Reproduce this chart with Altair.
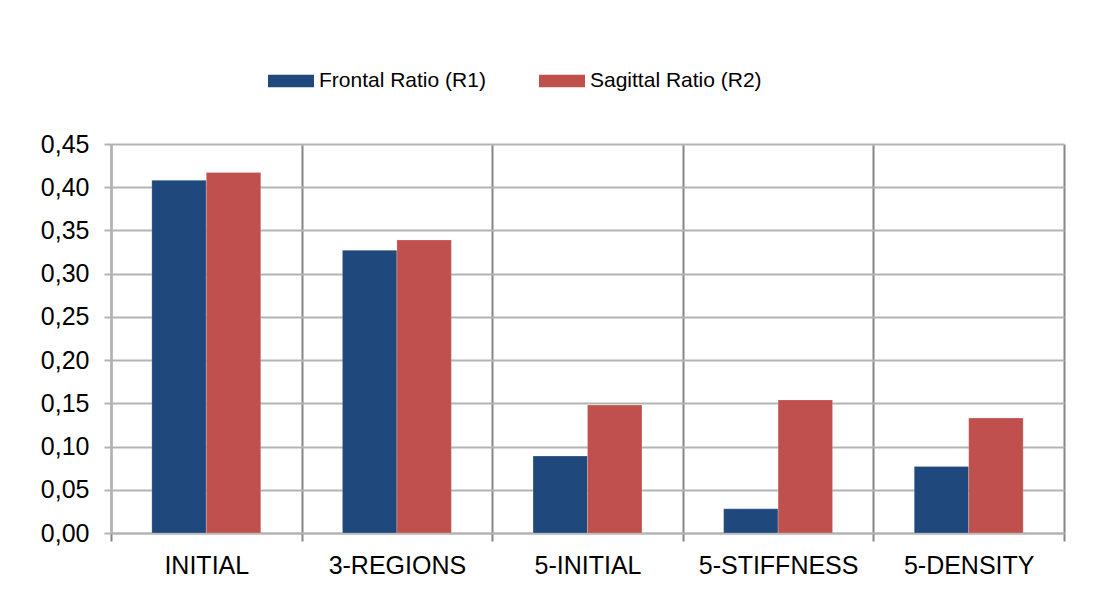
import altair as alt
import pandas as pd

categories = ["INITIAL", "3-REGIONS", "5-INITIAL", "5-STIFFNESS", "5-DENSITY"]
frontal = [0.408, 0.327, 0.089, 0.028, 0.077]
sagittal = [0.417, 0.339, 0.148, 0.154, 0.133]
series_names = ["Frontal Ratio (R1)", "Sagittal Ratio (R2)"]
series_colors = ["#1F497D", "#C0504D"]
y_ticks = [0.0, 0.05, 0.10, 0.15, 0.20, 0.25, 0.30, 0.35, 0.40, 0.45]

rows = []
for c, f, s in zip(categories, frontal, sagittal):
    rows.append({"category": c, "series": series_names[0], "value": f})
    rows.append({"category": c, "series": series_names[1], "value": s})
df = pd.DataFrame(rows)

font = "Liberation Sans"

chart = alt.Chart(df).mark_bar(
    stroke="#ffffff", strokeOpacity=0.35, strokeWidth=0.6
).encode(
    x=alt.X(
        "category:N", sort=categories, title=None,
        scale=alt.Scale(paddingInner=0, paddingOuter=0),
        axis=alt.Axis(
            labelAngle=0, labelFontSize=25, labelFont=font, labelColor="#000000",
            labelPadding=12, tickBand="extent", tickSize=8, tickColor="#868686",
            tickWidth=2, grid=True, gridColor="#868686", gridWidth=2,
            domainColor="#b3b3b3", domainWidth=2,
        ),
    ),
    xOffset=alt.XOffset(
        "series:N", sort=series_names,
        scale=alt.Scale(paddingInner=0, paddingOuter=0.75),
    ),
    y=alt.Y(
        "value:Q", title=None,
        scale=alt.Scale(domain=[0, 0.45], nice=False),
        axis=alt.Axis(
            values=y_ticks,
            labelExpr="replace(format(datum.value, '.2f'), '.', ',')",
            labelFontSize=25, labelFont=font, labelColor="#000000", labelPadding=15,
            tickSize=7, tickColor="#b3b3b3", tickWidth=2,
            grid=True, gridColor="#b3b3b3", gridWidth=2,
            domainColor="#b3b3b3", domainWidth=2,
        ),
    ),
    color=alt.Color(
        "series:N", sort=series_names,
        scale=alt.Scale(domain=series_names, range=series_colors),
        legend=alt.Legend(
            title=None, orient="none", legendX=157, legendY=-86,
            direction="horizontal",
            symbolType="M-1,-0.276H1V0.276H-1Z", symbolSize=2116,
            symbolStrokeWidth=0, symbolOpacity=1,
            labelFontSize=21, labelFont=font, labelColor="#000000",
            columnPadding=53, labelOffset=5, labelLimit=300,
        ),
    ),
).properties(
    width=953, height=389,
    padding={"left": 103, "top": 136, "right": 40, "bottom": 60},
    autosize=alt.AutoSizeParams(type="none"),
).configure_view(stroke=None)

chart.save("out.html", embed_options={"renderer": "svg", "actions": False})
